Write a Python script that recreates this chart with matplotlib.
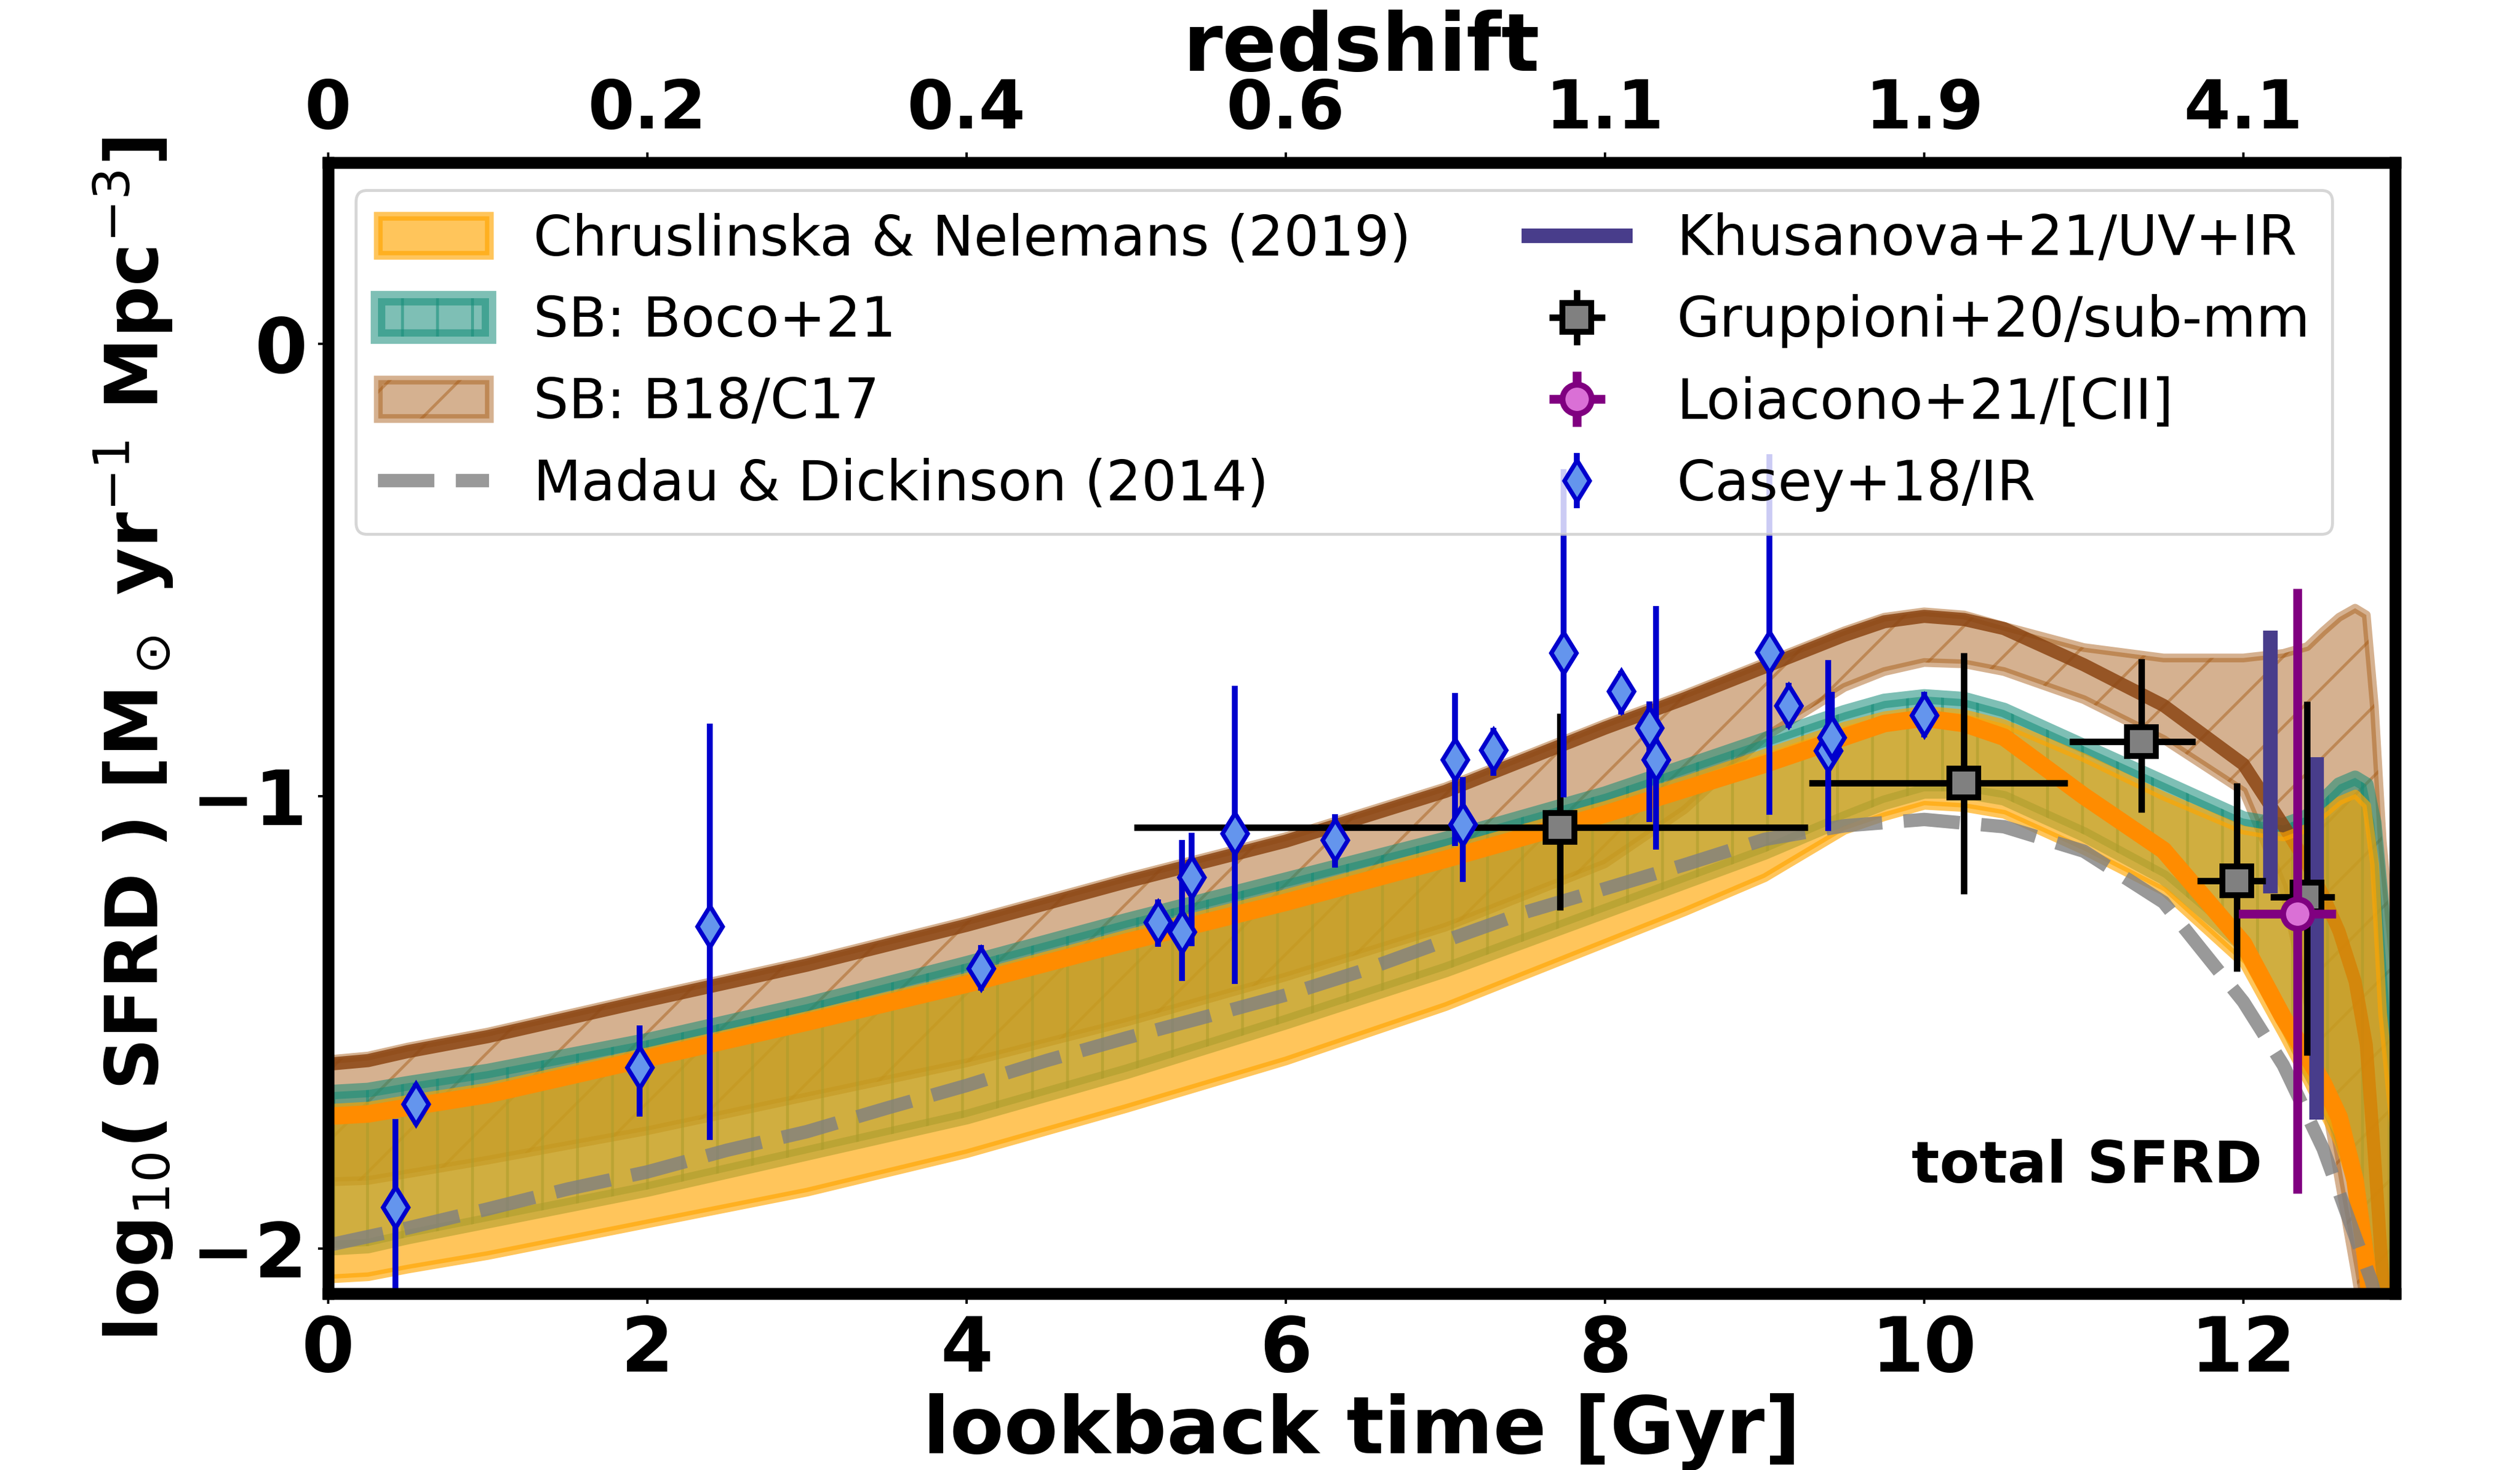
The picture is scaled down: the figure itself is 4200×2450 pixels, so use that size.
import numpy as np
import matplotlib.pyplot as plt

# lookback time grid (Gyr) of the model curves
t_band = [0, 0.25, 0.5, 1, 2, 3, 4, 5, 6, 7, 8, 8.5, 9, 9.5, 9.75, 10, 10.25, 10.5,
          11, 11.5, 12, 12.25, 12.4, 12.5, 12.6, 12.7, 12.77, 12.82, 12.87, 12.95]

# Chruslinska & Nelemans (2019) range + thick orange line
cn_lo = [-2.067, -2.062, -2.045, -2.015, -1.945, -1.875, -1.79, -1.69, -1.585, -1.465,
         -1.325, -1.255, -1.18, -1.075, -1.045, -1.02, -1.025, -1.04, -1.12, -1.21,
         -1.37, -1.53, -1.63, -1.70, -1.77, -1.88, -2.05, -2.25, -2.45, -2.6]
cn_hi = [-1.69, -1.685, -1.67, -1.643, -1.565, -1.485, -1.40, -1.305, -1.215, -1.12,
         -1.02, -0.965, -0.905, -0.845, -0.822, -0.81, -0.818, -0.84, -0.915, -1.0,
         -1.075, -1.09, -1.07, -1.04, -1.01, -0.995, -1.02, -1.15, -1.48, -1.76]
cn_line = [-1.708, -1.703, -1.688, -1.66, -1.58, -1.50, -1.416, -1.323, -1.235, -1.14,
           -1.04, -0.985, -0.93, -0.87, -0.84, -0.828, -0.84, -0.87, -1.0, -1.12,
           -1.326, -1.49, -1.575, -1.635, -1.71, -1.85, -2.03, -2.2, -2.4, -2.6]

# SB: Boco+21
boco_lo = [-2.0, -1.995, -1.975, -1.94, -1.87, -1.79, -1.71, -1.61, -1.50, -1.385,
           -1.255, -1.19, -1.125, -1.05, -1.015, -0.99, -0.99, -1.005, -1.085, -1.18,
           -1.33, -1.49, -1.60, -1.665, -1.74, -1.85, -2.0, -2.2, -2.4, -2.6]
boco_hi = [-1.655, -1.65, -1.635, -1.608, -1.54, -1.46, -1.37, -1.275, -1.185, -1.095,
           -0.995, -0.935, -0.875, -0.815, -0.79, -0.78, -0.786, -0.81, -0.89, -0.97,
           -1.05, -1.065, -1.045, -1.01, -0.975, -0.96, -0.975, -1.06, -1.25, -1.65]

# SB: B18/C17 range and central line
b18_lo = [-1.853, -1.85, -1.835, -1.805, -1.74, -1.665, -1.59, -1.50, -1.40, -1.29,
          -1.15, -1.03, -0.87, -0.76, -0.725, -0.705, -0.708, -0.725, -0.787, -0.875,
          -0.99, -1.2, -1.45, -1.65, -1.85, -2.05, -2.2, -2.3, -2.4, -2.5]
b18_hi = [-1.583, -1.575, -1.555, -1.522, -1.442, -1.364, -1.276, -1.18, -1.09, -0.98,
          -0.84, -0.775, -0.705, -0.635, -0.605, -0.593, -0.60, -0.625, -0.672, -0.695,
          -0.695, -0.685, -0.67, -0.636, -0.605, -0.585, -0.60, -0.80, -1.10, -1.40]
b18_mid = [-1.593, -1.585, -1.565, -1.532, -1.452, -1.374, -1.286, -1.19, -1.10, -0.99,
           -0.85, -0.785, -0.715, -0.645, -0.615, -0.603, -0.61, -0.63, -0.71, -0.80,
           -0.93, -1.065, -1.15, -1.22, -1.30, -1.41, -1.55, -1.79, -2.05, -2.5]

# Madau & Dickinson (2014)
t_md = [0, 0.5, 1, 1.5, 2, 2.5, 3, 3.5, 4, 4.5, 5, 5.5, 6, 6.5, 7, 7.5, 8, 8.5, 9,
        9.5, 10, 10.5, 11, 11.5, 12, 12.25, 12.5, 12.65, 12.8, 12.9]
sfrd_md = [-1.993, -1.955, -1.913, -1.869, -1.831, -1.783, -1.742, -1.690, -1.640,
           -1.585, -1.535, -1.488, -1.440, -1.384, -1.320, -1.257, -1.205, -1.152,
           -1.096, -1.066, -1.052, -1.068, -1.122, -1.235, -1.455, -1.595, -1.78,
           -1.925, -2.07, -2.2]

# Khusanova+21 (UV+IR) ranges
khus_t = [12.17, 12.46]
khus_lo = [-1.215, -1.715]
khus_hi = [-0.634, -0.914]

# Gruppioni+20 (sub-mm)
grup_t = [7.72, 10.25, 11.36, 11.96, 12.40]
grup_y = [-1.069, -0.972, -0.880, -1.187, -1.224]
grup_tlo = [5.05, 9.28, 10.91, 11.71, 12.17]
grup_thi = [9.27, 10.90, 11.70, 12.14, 12.57]
grup_ylo = [-1.253, -1.217, -1.037, -1.388, -1.573]
grup_yhi = [-0.818, -0.684, -0.697, -0.971, -0.791]

# Loiacono+21 ([CII])
loia_t = [12.34]
loia_y = [-1.260]
loia_tlo, loia_thi = [11.97], [12.58]
loia_ylo, loia_yhi = [-1.878], [-0.542]

# Casey+18 (IR)
casey_t = [0.42, 0.55, 1.95, 2.39, 4.09, 5.20, 5.35, 5.41, 5.68, 6.31, 7.06, 7.11,
           7.30, 7.74, 8.10, 8.28, 8.32, 9.03, 9.15, 9.40, 9.42, 10.0]
casey_y = [-1.909, -1.681, -1.600, -1.289, -1.381, -1.279, -1.300, -1.179, -1.083,
           -1.098, -0.919, -1.063, -0.899, -0.683, -0.768, -0.849, -0.919, -0.682,
           -0.800, -0.900, -0.870, -0.821]
casey_ylo = [-2.3, -1.726, -1.709, -1.760, -1.43, -1.333, -1.409, -1.332, -1.416,
             -1.158, -1.110, -1.190, -0.956, -1.003, -0.820, -1.058, -1.119, -1.041,
             -0.85, -1.077, -0.914, -0.87]
casey_yhi = [-1.714, -1.636, -1.507, -0.840, -1.33, -1.229, -1.098, -1.082, -0.756,
             -1.040, -0.772, -0.958, -0.849, -0.278, -0.724, -0.791, -0.580, -0.245,
             -0.75, -0.700, -0.770, -0.77]

xticks = [0, 2, 4, 6, 8, 10, 12]
z_labels = ['0', '0.2', '0.4', '0.6', '1.1', '1.9', '4.1']
yticks = [-2, -1, 0]

teal = '#148C78'
tan = '#A65A14'

fig = plt.figure(figsize=(12, 7), dpi=350)
ax = fig.add_axes([0.1302, 0.12, 0.8202, 0.7694])

b18 = ax.fill_between(t_band, b18_lo, b18_hi, facecolor=tan, edgecolor=tan,
                      alpha=0.47, hatch='/', lw=3, zorder=1)
boco = ax.fill_between(t_band, boco_lo, boco_hi, facecolor=teal, edgecolor=teal,
                       alpha=0.55, hatch='|', lw=5, zorder=1.1)
ax.plot(t_band, b18_mid, color='#8B4513', alpha=0.85, lw=4.5, zorder=1.2)
cn = ax.fill_between(t_band, cn_lo, cn_hi, facecolor='orange', edgecolor='orange',
                     alpha=0.645, lw=3, zorder=1.3)
ax.plot(t_band, cn_line, color='darkorange', lw=6, zorder=1.4)
md, = ax.plot(t_md, sfrd_md, ls='--', dashes=(4.2, 1.6), color='gray', alpha=0.8,
              lw=4.6, zorder=1.5)

khus = ax.vlines(khus_t, khus_lo, khus_hi, color='darkslateblue', lw=5, zorder=2)

gy = np.array(grup_y)
gt = np.array(grup_t)
grup = ax.errorbar(grup_t, grup_y,
                   xerr=[gt - np.array(grup_tlo), np.array(grup_thi) - gt],
                   yerr=[gy - np.array(grup_ylo), np.array(grup_yhi) - gy],
                   fmt='s', color='k', mfc='gray', mec='k', ms=10, mew=2,
                   elinewidth=2.2, zorder=3)

ly = np.array(loia_y)
lt = np.array(loia_t)
loia = ax.errorbar(loia_t, loia_y,
                   xerr=[lt - np.array(loia_tlo), np.array(loia_thi) - lt],
                   yerr=[ly - np.array(loia_ylo), np.array(loia_yhi) - ly],
                   fmt='o', color='purple', mfc='orchid', mec='purple', ms=10, mew=2,
                   elinewidth=3, zorder=4)

cy = np.array(casey_y)
casey = ax.errorbar(casey_t, casey_y,
                    yerr=[cy - np.array(casey_ylo), np.array(casey_yhi) - cy],
                    fmt='d', color='mediumblue', mfc='cornflowerblue', mec='mediumblue',
                    ms=10, mew=1.5, elinewidth=2, zorder=4.5)

ax.text(11.02, -1.82, 'total SFRD', fontsize=20, fontweight='bold',
        ha='center', va='center')

ax.set_xlim(0, 12.95)
ax.set_ylim(-2.1, 0.4)
ax.set_xticks(xticks, [str(v) for v in xticks], fontsize=26, fontweight='bold')
ax.set_yticks(yticks, ['\u22122', '\u22121', '0'], fontsize=26, fontweight='bold')
ax.set_xlabel('lookback time [Gyr]', fontsize=27, fontweight='bold', labelpad=2)
ax.set_ylabel(r'log$_{10}$( SFRD ) [M$_\odot$ yr$^{-1}$ Mpc$^{-3}$]',
              fontsize=24.8, fontweight='bold')
ax.yaxis.set_label_coords(-0.074, 0.49)

ax2 = ax.twiny()
ax2.set_xlim(ax.get_xlim())
ax2.set_xticks(xticks, z_labels, fontsize=23, fontweight='bold')
ax2.set_xlabel('redshift', fontsize=27.5, fontweight='bold', labelpad=2.3)

for a in (ax, ax2):
    for sp in a.spines.values():
        sp.set_linewidth(4)

handles = [cn, boco, b18, md, khus, grup, loia, casey]
labels = ['Chruslinska & Nelemans (2019)', 'SB: Boco+21', 'SB: B18/C17',
          'Madau & Dickinson (2014)', 'Khusanova+21/UV+IR', 'Gruppioni+20/sub-mm',
          'Loiacono+21/[CII]', 'Casey+18/IR']
leg = ax.legend(handles, labels, loc='upper left', ncol=2, fontsize=19)
leg.set_zorder(10)

fig.savefig('out.png', dpi=350)
